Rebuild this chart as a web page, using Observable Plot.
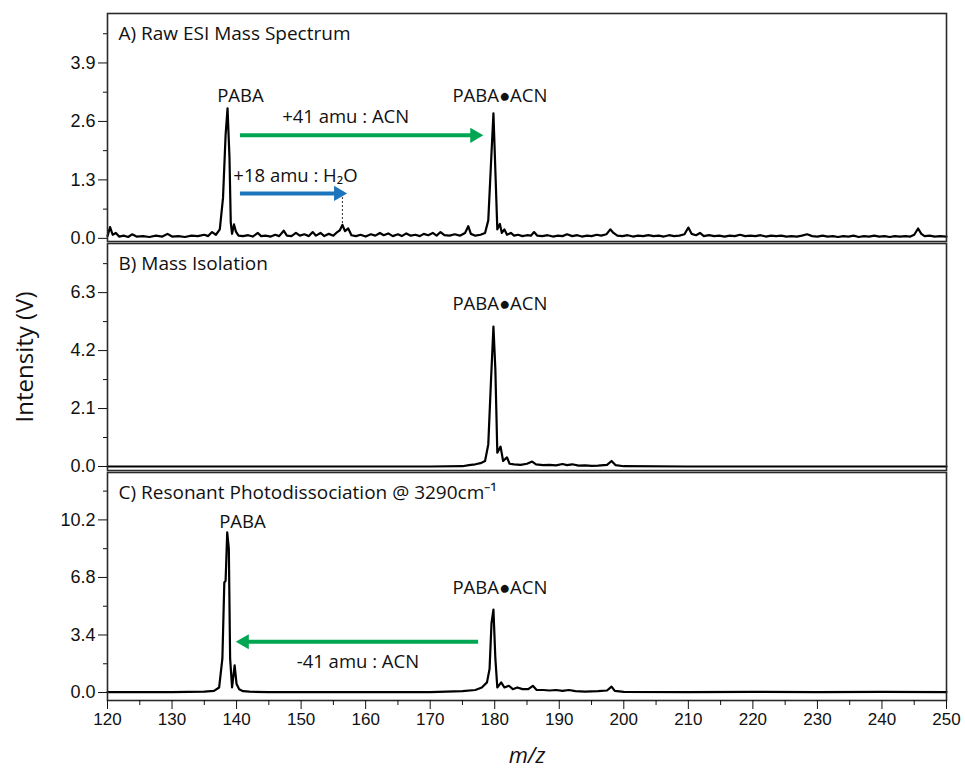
<!DOCTYPE html>
<html><head><meta charset="utf-8">
<script src="https://cdn.jsdelivr.net/npm/d3@7"></script>
<script src="https://cdn.jsdelivr.net/npm/@observablehq/plot@0.6"></script>
<style>
body{margin:0;background:#fff;}
#chart{position:relative;width:965px;height:773px;overflow:hidden;background:#fff;}
#chart svg{position:absolute;left:0;}
</style></head><body><div id="chart"></div>
<script>
// ---- Data (m/z, intensity V) ----
const specA = [
[120.0,0.05],[120.4,0.25],[120.8,0.08],[121.3,0.12],[121.8,0.04],[122.5,0.06],[123.2,0.03],[123.8,0.09],[124.5,0.04],[125.5,0.05],
[126.5,0.03],[127.5,0.06],[128.5,0.04],[129.3,0.10],[130.0,0.04],[131.0,0.05],[132.0,0.03],[133.0,0.06],[134.0,0.05],[135.0,0.08],
[135.6,0.05],[136.2,0.14],[136.8,0.08],[137.4,0.20],[137.9,0.90],[138.3,2.30],[138.6,2.89],[138.9,1.80],[139.1,0.35],[139.3,0.10],
[139.6,0.31],[139.9,0.15],[140.3,0.06],[141.0,0.05],[141.8,0.07],[142.5,0.04],[143.3,0.12],[143.8,0.05],[144.5,0.06],[145.3,0.04],
[146.0,0.08],[146.6,0.05],[147.3,0.17],[147.8,0.06],[148.5,0.05],[149.2,0.12],[149.8,0.06],[150.5,0.09],[151.2,0.05],[151.8,0.14],
[152.3,0.06],[153.0,0.12],[153.6,0.05],[154.3,0.10],[155.0,0.06],[155.6,0.14],[156.0,0.18],[156.4,0.30],[156.8,0.16],[157.3,0.22],
[157.8,0.07],[158.5,0.05],[159.2,0.08],[160.0,0.04],[160.8,0.09],[161.5,0.06],[162.2,0.12],[162.8,0.07],[163.5,0.11],[164.2,0.05],
[165.0,0.09],[165.6,0.05],[166.3,0.11],[167.0,0.06],[167.7,0.08],[168.4,0.05],[169.0,0.10],[169.7,0.07],[170.4,0.12],[171.0,0.06],
[171.6,0.14],[172.2,0.07],[173.0,0.06],[173.8,0.09],[174.6,0.06],[175.4,0.12],[175.9,0.27],[176.3,0.10],[177.0,0.06],[177.8,0.08],
[178.5,0.12],[179.0,0.40],[179.4,1.60],[179.8,2.78],[180.1,1.50],[180.4,0.20],[180.8,0.32],[181.1,0.12],[181.5,0.20],[181.9,0.08],
[182.5,0.12],[183.0,0.06],[183.6,0.08],[184.3,0.05],[185.0,0.07],[185.6,0.06],[186.1,0.14],[186.6,0.06],[187.4,0.05],[188.2,0.07],
[189.0,0.04],[189.8,0.06],[190.5,0.05],[191.2,0.09],[192.0,0.05],[192.8,0.07],[193.5,0.04],[194.3,0.06],[195.0,0.05],[195.8,0.08],
[196.5,0.06],[197.3,0.09],[197.9,0.20],[198.4,0.12],[199.0,0.06],[199.8,0.05],[200.6,0.07],[201.4,0.04],[202.2,0.06],[203.0,0.05],
[203.8,0.07],[204.6,0.05],[205.4,0.06],[206.2,0.04],[207.0,0.07],[207.8,0.05],[208.6,0.06],[209.4,0.09],[210.0,0.24],[210.5,0.10],
[211.2,0.07],[211.8,0.12],[212.4,0.05],[213.2,0.07],[214.0,0.05],[214.8,0.06],[215.6,0.04],[216.4,0.06],[217.2,0.05],[218.0,0.08],
[218.8,0.05],[219.6,0.06],[220.4,0.05],[221.2,0.07],[222.0,0.04],[222.8,0.06],[223.6,0.05],[224.4,0.06],[225.2,0.04],[226.0,0.05],
[226.8,0.04],[227.6,0.06],[228.4,0.09],[229.2,0.05],[230.0,0.04],[230.8,0.06],[231.6,0.04],[232.4,0.05],[233.2,0.03],[234.0,0.05],
[234.8,0.04],[235.6,0.06],[236.4,0.03],[237.2,0.05],[238.0,0.04],[238.8,0.06],[239.6,0.04],[240.4,0.05],[241.2,0.03],[242.0,0.05],
[242.8,0.04],[243.6,0.05],[244.4,0.04],[245.0,0.08],[245.6,0.22],[246.1,0.10],[246.6,0.05],[247.4,0.06],[248.2,0.04],[249.0,0.05],
[250.0,0.04]
];
const specB = [
[120,0.0],[130,0.0],[140,0.0],[150,0.0],[160,0.0],[170,0.0],[175.0,0.01],[176.0,0.05],[177.0,0.08],[177.8,0.12],
[178.5,0.20],[179.0,0.80],[179.4,3.00],[179.8,5.07],[180.1,3.50],[180.4,0.50],[180.9,0.72],[181.3,0.20],[181.9,0.33],[182.3,0.10],
[183.0,0.08],[184.0,0.06],[185.0,0.10],[185.8,0.18],[186.4,0.08],[187.5,0.05],[188.5,0.06],[189.5,0.04],[190.5,0.09],[191.2,0.05],
[192.0,0.08],[193.0,0.03],[194.0,0.04],[195.0,0.02],[196.0,0.03],[197.4,0.06],[198.1,0.20],[198.7,0.05],[200.0,0.01],[210,0.0],
[220,0.0],[230,0.0],[240,0.0],[250,0.0]
];
const specC = [
[120,0.03],[125,0.02],[130,0.03],[135,0.05],[136.5,0.10],[137.3,0.30],[137.8,2.00],[138.1,6.50],[138.3,6.60],[138.55,9.47],
[138.8,8.50],[139.0,2.00],[139.3,0.30],[139.7,1.60],[140.0,0.50],[140.4,0.20],[141,0.08],[142,0.05],[145,0.03],[150,0.02],
[160,0.03],[170,0.03],[175,0.08],[177,0.15],[178,0.30],[178.8,0.60],[179.2,1.40],[179.5,4.10],[179.8,4.90],[180.1,2.00],
[180.4,0.30],[181.0,0.60],[181.5,0.30],[182.2,0.40],[182.8,0.20],[183.5,0.30],[184.3,0.20],[185.2,0.20],[185.9,0.40],[186.5,0.15],
[187.5,0.15],[188.5,0.12],[189.5,0.15],[190.5,0.10],[191.5,0.15],[192.5,0.08],[194,0.06],[196,0.08],[197.4,0.12],[198.1,0.35],
[198.6,0.10],[200,0.04],[210,0.03],[220,0.04],[230,0.03],[240,0.04],[250,0.03]
];

// ---- Ticks ----
const xMajor = [120,130,140,150,160,170,180,190,200,210,220,230,240,250];
const xMinor = [125,135,145,155,165,175,185,195,205,215,225,235,245];
const yMajorA = [0, 1.3, 2.6, 3.9];
const yMinorA = [0.65, 1.95, 3.25, 4.55];
const yMajorB = [0, 2.1, 4.2, 6.3];
const yMinorB = [1.05, 3.15, 5.25, 7.35];
const yMajorC = [0, 3.4, 6.8, 10.2];
const yMinorC = [1.7, 5.1, 8.5, 11.9];

// ---- Text ----
const titles = ["A) Raw ESI Mass Spectrum", "B) Mass Isolation", "C) Resonant Photodissociation @ 3290cm\u207B\u00B9"];
const yLabel = "Intensity (V)";
const xLabel = "m/z";
const labelsA = [
  {mz: 140.6, v: 3.16, text: "PABA"},
  {mz: 180.8, v: 3.16, text: "PABA\u25CFACN"},
  {mz: 156.9, v: 2.69, text: "+41 amu : ACN"}
];
const labelsA2 = [{mz: 139.5, v: 1.38, text: "+18 amu : H\u2082O"}];
const labelsB = [{mz: 180.8, v: 5.9, text: "PABA\u25CFACN"}];
const labelsC = [
  {mz: 140.9, v: 10.06, text: "PABA"},
  {mz: 180.8, v: 6.15, text: "PABA\u25CFACN"},
  {mz: 158.8, v: 1.78, text: "-41 amu : ACN"}
];
// arrows: from -> to (tip)
const arrowsA = [
  {from: 140.6, to: 177.5, v: 2.29, color: "#00a651"},
  {from: 140.6, to: 156.4, v: 1.0, color: "#1c75bc"}
];
const dropA = [{mz: 156.4, v1: 0.33, v2: 1.0}];
const arrowsC = [{from: 177.5, to: 140.6, v: 3.0, color: "#00a651"}];

const annFont = "'Open Sans', sans-serif";
const tickFont = "'Liberation Sans', Arial, sans-serif";
const pxPerUnit = 839 / 130;
const fmt1 = d3.format(".1f");

function arrowMarks(arrows) {
  const headLen = 12 / pxPerUnit; // head length in m/z units
  const shafts = arrows.map(a => ({x1: a.from, x2: a.to - Math.sign(a.to - a.from) * headLen * 0.6, v: a.v, color: a.color}));
  const heads = arrows.map(a => ({x: a.to - Math.sign(a.to - a.from) * headLen / 3, v: a.v, color: a.color, rot: a.to > a.from ? 90 : -90}));
  return [
    Plot.ruleY(shafts, {y: "v", x1: "x1", x2: "x2", stroke: "color", strokeWidth: 4}),
    Plot.dot(heads, {x: "x", y: "v", fill: "color", stroke: "none", symbol: "triangle", r: 5.6, rotate: "rot"})
  ];
}

function panel({spec, yDomain, yMajor, yMinor, top, panelH, mb, title, extra, showX}) {
  const marks = [
    Plot.line(spec, {x: d => d[0], y: d => d[1], stroke: "#000", strokeWidth: 2.2}),
    Plot.frame({stroke: "#2a2a2a", strokeWidth: 1.6}),
    Plot.axisY(yMajor, {tickSize: 9, tickFormat: () => "", label: null}),
    Plot.axisY(yMinor, {tickSize: 4, tickFormat: () => "", label: null}),
    Plot.text(yMajor, {y: d => d, text: d => fmt1(d), frameAnchor: "left", dx: -12, textAnchor: "end", lineAnchor: "middle",
      fontSize: 18, fontFamily: tickFont, fill: "#111"}),
    Plot.text([title], {frameAnchor: "top-left", dx: 11, dy: 20, textAnchor: "start", lineAnchor: "middle",
      fontSize: 19, fontFamily: annFont, fill: "#111"}),
    ...extra
  ];
  if (showX) {
    marks.push(
      Plot.axisX(xMajor, {tickSize: 9, tickFormat: () => "", label: null}),
      Plot.axisX(xMinor, {tickSize: 5, tickFormat: () => "", label: null}),
      Plot.text(xMajor, {x: d => d, text: d => String(d), frameAnchor: "bottom", dy: 19, lineAnchor: "middle",
        fontSize: 17, fontFamily: tickFont, fill: "#111"})
    );
  }
  const svg = Plot.plot({
    width: 965, height: 10 + panelH + mb,
    marginLeft: 107, marginRight: 19, marginTop: 10, marginBottom: mb,
    x: {domain: [120, 250], axis: null, label: null},
    y: {domain: yDomain, label: null},
    style: {background: "transparent", fontFamily: tickFont, fontSize: "18px", color: "#111", overflow: "visible"},
    marks
  });
  svg.style.top = (top - 10) + "px";
  return svg;
}

const textOpts = {x: "mz", y: "v", text: "text", fontSize: 18.5, fontFamily: annFont, fill: "#111", lineAnchor: "middle"};

const chart = document.getElementById("chart");

chart.appendChild(panel({
  spec: specA, yDomain: [-0.07, 5.0], yMajor: yMajorA, yMinor: yMinorA, top: 13, panelH: 228, mb: 10,
  title: titles[0], showX: false,
  extra: [
    Plot.ruleX(dropA, {x: "mz", y1: "v1", y2: "v2", stroke: "#333", strokeWidth: 1, strokeDasharray: "2,2"}),
    ...arrowMarks(arrowsA),
    Plot.text(labelsA, textOpts),
    Plot.text(labelsA2, {...textOpts, textAnchor: "start"})
  ]
}));

chart.appendChild(panel({
  spec: specB, yDomain: [-0.145, 8.08], yMajor: yMajorB, yMinor: yMinorB, top: 243, panelH: 227, mb: 10,
  title: titles[1], showX: false,
  extra: [
    Plot.text(labelsB, textOpts),
    Plot.text([yLabel], {frameAnchor: "left", dx: -82, rotate: -90, textAnchor: "middle", lineAnchor: "middle",
      fontSize: 24, fontFamily: annFont, fill: "#111"})
  ]
}));

chart.appendChild(panel({
  spec: specC, yDomain: [-0.47, 13.0], yMajor: yMajorC, yMinor: yMinorC, top: 472, panelH: 228, mb: 73,
  title: titles[2], showX: true,
  extra: [
    ...arrowMarks(arrowsC),
    Plot.text(labelsC, textOpts),
    Plot.text([xLabel], {frameAnchor: "bottom", dy: 62, fontSize: 22, fontStyle: "italic", fontFamily: annFont, fill: "#111"})
  ]
}));
</script></body></html>
